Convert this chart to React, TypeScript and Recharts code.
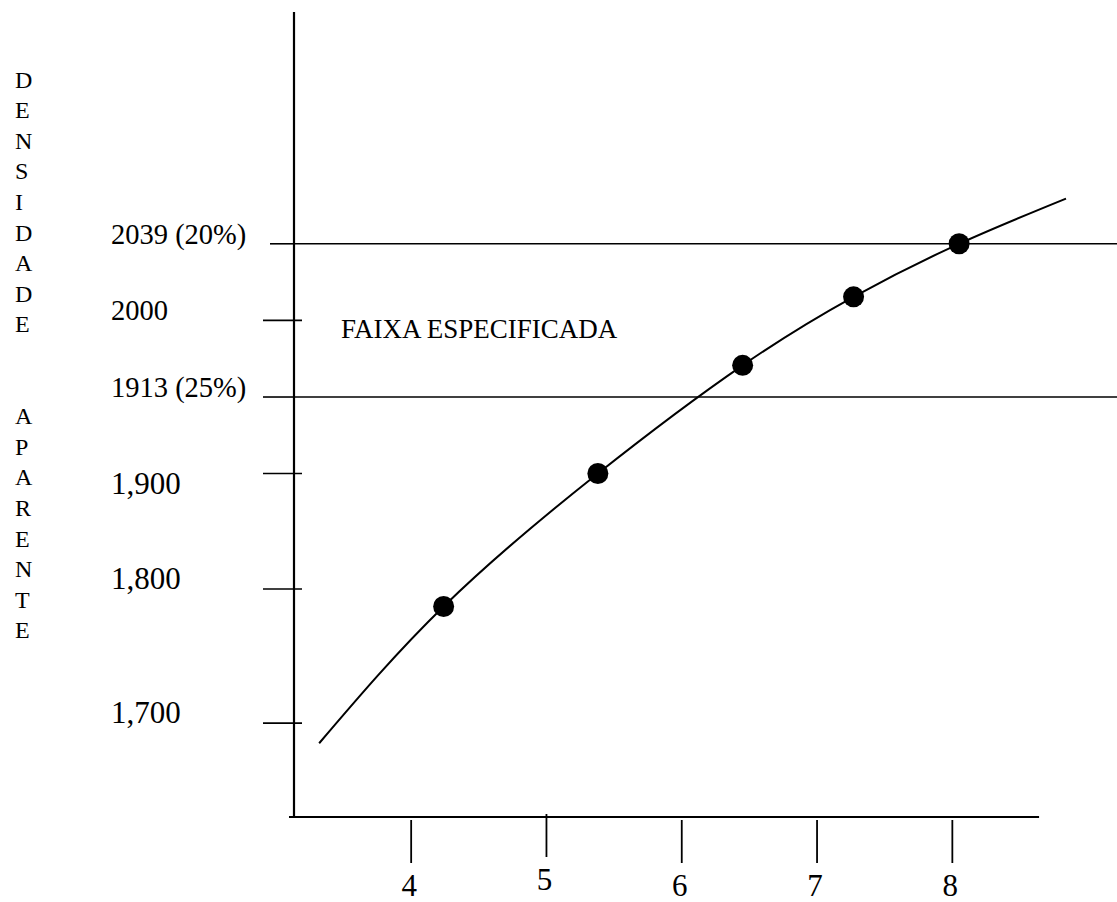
import React from 'react';
import { ComposedChart, Line, XAxis, YAxis, ReferenceLine, ReferenceArea } from 'recharts';

const SERIF = '"Liberation Serif", "Times New Roman", Times, serif';

// Teor de ligante (%) x densidade aparente dos corpos de prova
const TEOR = [4.24, 5.38, 6.45, 7.27, 8.05];
const DENSIDADE = [1787, 1900, 1949, 2012, 2039];

// Curva ajustada pelos pontos, prolongada nas extremidades
const CURVA_TEOR = [3.32, 4.24, 5.38, 6.45, 7.27, 8.05, 8.84];
const CURVA_DENSIDADE = [1685, 1787, 1900, 1949, 2012, 2039, 2062];

// Eixos
const X_TICKS = [4, 5, 6, 7, 8];
const Y_TICKS = [1700, 1800, 1900, 1913, 2000, 2039];
const Y_TICK_LABELS = ['1,700', '1,800', '1,900', '1913 (25%)', '2000', '2039 (20%)'];
const LIMITES = [1913, 2039];
const TITULO_Y = ['DENSIDADE', 'APARENTE'];
const FAIXA = 'FAIXA ESPECIFICADA';

// Domains of the plotting area
const X_LO = 3.134;
const X_HI = 9.217;
const X_AXIS_END = 8.641;
const Y_LO = 1630;
const Y_HI = 2157;

// The printed density axis is not to scale: each graduation sits at its own
// height (fraction of the axis length), and values in between are interpolated.
const AXIS_HEIGHTS = [0.1164, 0.2832, 0.427, 0.5221, 0.6174, 0.7127];

function piecewiseScale(values: number[], heights: number[]): any {
  let dom: number[] = [values[0], values[values.length - 1]];
  let rng: number[] = [0, 1];
  const level = (v: number) => {
    const n = values.length;
    let i = 0;
    while (i < n - 2 && v > values[i + 1]) i++;
    const t = (v - values[i]) / (values[i + 1] - values[i]);
    return heights[i] + t * (heights[i + 1] - heights[i]);
  };
  const scale: any = (v: number) => {
    const h0 = level(dom[0]);
    const h1 = level(dom[dom.length - 1]);
    return rng[0] + ((level(Number(v)) - h0) / (h1 - h0)) * (rng[rng.length - 1] - rng[0]);
  };
  scale.domain = (d?: any) => {
    if (d === undefined) return dom.slice();
    dom = Array.from(d, Number);
    return scale;
  };
  scale.range = (r?: any) => {
    if (r === undefined) return rng.slice();
    rng = Array.from(r, Number);
    return scale;
  };
  scale.copy = () => piecewiseScale(values, heights).domain(dom).range(rng);
  scale.ticks = () => values.slice();
  return scale;
}

const densityScale = piecewiseScale(Y_TICKS, AXIS_HEIGHTS);

const pontos = TEOR.map((x, i) => ({ x, y: DENSIDADE[i] }));
const curva = CURVA_TEOR.map((x, i) => ({ x, y: CURVA_DENSIDADE[i] }));

const BIG = 31;
const SMALL = 28.5;

function YTick(props: any) {
  const { x, y, payload } = props;
  const v = payload.value as number;
  const idx = Y_TICKS.indexOf(v);
  const label = Y_TICK_LABELS[idx];
  const isLimit = LIMITES.includes(v);
  const size = v < 1910 ? BIG : SMALL;
  const drop = v === 1900 ? 21 : 0;
  return (
    <g>
      {isLimit ? (
        <line x1={x - (v === 2039 ? 24 : 31)} x2={x} y1={y} y2={y} stroke="#000" strokeWidth={1.6} />
      ) : (
        <line x1={x - 31} x2={x + 8} y1={y} y2={y} stroke="#000" strokeWidth={1.6} />
      )}
      <text x={x - 183} y={y + drop} fontSize={size} fontFamily={SERIF} fill="#000">
        {label}
      </text>
    </g>
  );
}

function XTick(props: any) {
  const { x, y, payload } = props;
  const lift = payload.value === 5 ? 6 : 0;
  return (
    <g>
      <line x1={x} x2={x} y1={y + 3 - lift} y2={y + 46 - lift} stroke="#000" strokeWidth={1.8} />
      <text x={x - 2} y={y + 79 - lift} textAnchor="middle" fontSize={BIG} fontFamily={SERIF} fill="#000">
        {payload.value}
      </text>
    </g>
  );
}

function TituloY(props: any) {
  const vb = props.viewBox || { x: 0, y: 12 };
  const letters: { ch: string; dy: number }[] = [];
  TITULO_Y.forEach((word, w) => {
    word.split('').forEach((ch, i) => {
      letters.push({ ch, dy: i === 0 && w > 0 ? 30.6 * 3 : 30.6 });
    });
  });
  return (
    <text x={vb.x + 15} y={vb.y + 75.5 - 30.6} fontSize={24} fontFamily={SERIF} fill="#000">
      {letters.map((l, i) => (
        <tspan key={i} x={vb.x + 15} dy={l.dy}>
          {l.ch}
        </tspan>
      ))}
    </text>
  );
}

function FaixaLabel(props: any) {
  const vb = props.viewBox || { x: 0, y: 0 };
  return (
    <text x={vb.x + 47} y={vb.y + 94} fontSize={27} fontFamily={SERIF} fill="#000">
      {FAIXA}
    </text>
  );
}

export default function App() {
  return (
    <div style={{ position: 'absolute', left: 0, top: 0, width: 1117, height: 902, background: '#fff' }}>
      <ComposedChart
        width={1117}
        height={902}
        margin={{ top: 12, right: 0, bottom: 0, left: 0 }}
        style={{ fontFamily: SERIF }}
      >
        <XAxis
          type="number"
          dataKey="x"
          domain={[X_LO, X_HI]}
          allowDataOverflow
          ticks={X_TICKS}
          interval={0}
          axisLine={false}
          tickLine={false}
          tickSize={0}
          tickMargin={0}
          height={85}
          tick={<XTick />}
        />
        <YAxis
          type="number"
          dataKey="y"
          domain={[Y_LO, Y_HI]}
          allowDataOverflow
          scale={densityScale}
          ticks={Y_TICKS}
          interval={0}
          tickLine={false}
          tickSize={0}
          tickMargin={0}
          width={294}
          axisLine={{ stroke: '#000', strokeWidth: 2.2 }}
          tick={<YTick />}
          label={<TituloY />}
        />
        <ReferenceArea y1={LIMITES[0]} y2={LIMITES[1]} fill="none" fillOpacity={0} stroke="none" label={<FaixaLabel />} />
        {LIMITES.map((v) => (
          <ReferenceLine key={v} y={v} stroke="#000" strokeWidth={1.6} />
        ))}
        <ReferenceLine
          segment={[
            { x: X_LO - 0.037, y: Y_LO },
            { x: X_AXIS_END, y: Y_LO },
          ]}
          stroke="#000"
          strokeWidth={2}
          ifOverflow="visible"
        />
        <Line
          data={curva}
          dataKey="y"
          type="natural"
          stroke="#000"
          strokeWidth={2}
          dot={false}
          activeDot={false}
          isAnimationActive={false}
        />
        <Line
          data={pontos}
          dataKey="y"
          stroke="none"
          dot={{ r: 10.5, fill: '#000', stroke: '#000', strokeWidth: 0 }}
          activeDot={false}
          isAnimationActive={false}
        />
      </ComposedChart>
    </div>
  );
}
